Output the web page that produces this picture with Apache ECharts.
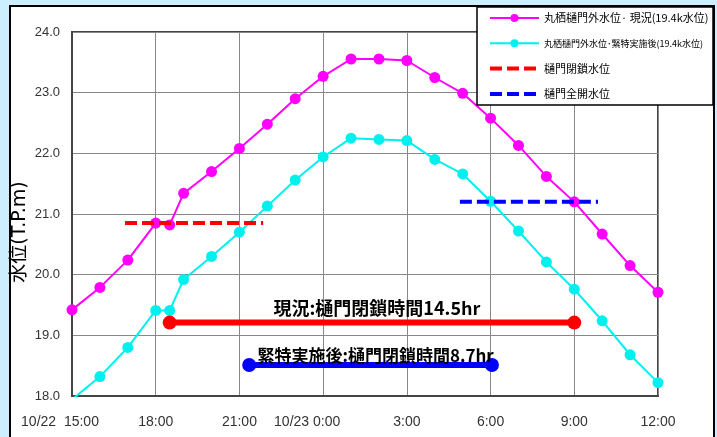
<!DOCTYPE html>
<html><head><meta charset="utf-8">
<script src="https://cdn.jsdelivr.net/npm/echarts@6/dist/echarts.min.js"></script>
<style>html,body{margin:0;padding:0;background:#cceeff}#c{width:717px;height:437px}</style>
</head><body><div id="c"></div>
<script>
// hours after 10/22 15:00
const hours = [0,1,2,3,3.5,4,5,6,7,8,9,10,11,12,13,14,15,16,17,18,19,20,21];
const genjo = [19.42,19.79,20.24,20.85,20.82,21.34,21.70,22.08,22.48,22.90,23.27,23.555,23.555,23.53,23.25,22.99,22.58,22.13,21.62,21.20,20.67,20.15,19.71];
const kintoku = [17.94,18.32,18.80,19.41,19.41,19.92,20.30,20.70,21.13,21.56,21.94,22.25,22.23,22.21,21.90,21.66,21.21,20.72,20.21,19.76,19.24,18.68,18.22];
const closeLevelHours = [1.9, 6.85];
const closeLevel = 20.85;
const openLevelHours = [13.9, 18.85];
const openLevel = 21.2;
const closeGenjoHours = [3.5, 18.0];
const closeGenjoY = 19.21;
const closeKintokuHours = [6.35, 15.05];
const closeKintokuY = 18.51;
const seriesNames = ['丸栖樋門外水位· 現況(19.4k水位)','丸栖樋門外水位･緊特実施後(19.4k水位)','樋門閉鎖水位','樋門全開水位'];
const annoTexts = ['現況:樋門閉鎖時間14.5hr','緊特実施後:樋門閉鎖時間8.7hr'];
const xTickLabels = ['10/22  15:00','18:00','21:00','10/23 0:00','3:00','6:00','9:00','12:00'];

const FONT = "'Liberation Sans','Noto Sans CJK JP',sans-serif";
const CJK = "'Noto Sans CJK JP',sans-serif";
const zip = (xs, ys) => xs.map((x, i) => [x, ys[i]]);
const mid = a => (a[0] + a[1]) / 2;

const chart = echarts.init(document.getElementById('c'), null, {renderer: 'canvas'});
const xLabelStyle = {fontSize: 14, color: '#333', fontFamily: FONT};
chart.setOption({
  backgroundColor: '#cceeff',
  animation: false,
  graphic: [
    {type: 'rect', z: -100, shape: {x: 10, y: 6, width: 704, height: 440}, style: {fill: '#fff', stroke: '#000', lineWidth: 2}},
    {type: 'rect', z: 5, shape: {x: 477, y: 7, width: 236, height: 98}, style: {fill: '#fff', stroke: '#000', lineWidth: 1.5}}
  ],
  legend: {
    z: 6, orient: 'vertical', left: 488, top: 11, padding: 0,
    itemWidth: 49, itemHeight: 10, itemGap: 11.3,
    textStyle: {fontFamily: CJK, color: '#000', fontSize: 11, lineHeight: 14},
    data: [
      {name: seriesNames[0], textStyle: {fontSize: 11}},
      {name: seriesNames[1], textStyle: {fontSize: 9}},
      {name: seriesNames[2], textStyle: {fontSize: 11}, itemStyle: {opacity: 0}, lineStyle: {width: 4}},
      {name: seriesNames[3], textStyle: {fontSize: 11}, itemStyle: {opacity: 0}, lineStyle: {width: 4}}
    ]
  },
  grid: {left: 72, top: 32, right: 59, bottom: 41, show: true, borderColor: '#444', borderWidth: 2, backgroundColor: 'transparent'},
  xAxis: {
    type: 'value', min: 0, max: 21, interval: 3,
    axisLine: {show: true, lineStyle: {color: '#444', width: 2}},
    axisTick: {show: false},
    splitLine: {show: true, lineStyle: {color: '#888', width: 1}},
    axisLabel: {
      margin: 19, ...xLabelStyle,
      formatter: v => {
        const i = Math.round(v / 3);
        const t = xTickLabels[i];
        if (i === 0) return '{a|' + t + '}';
        if (i === 3) return '{b|' + t + '}';
        return t;
      },
      rich: {
        a: {...xLabelStyle, padding: [0, 24, 0, 0]},
        b: {...xLabelStyle, padding: [0, 32, 0, 0]}
      }
    }
  },
  yAxis: {
    type: 'value', min: 18, max: 24, interval: 1,
    name: '水位(T.P.m)', nameLocation: 'middle', nameGap: 42, nameRotate: 90, nameMoveOverlap: false,
    nameTextStyle: {fontSize: 19, color: '#000', fontFamily: "'DejaVu Sans','Noto Sans CJK JP',sans-serif", padding: [0, 36, 0, 0]},
    axisLine: {show: true, lineStyle: {color: '#444', width: 2}},
    axisTick: {show: false},
    splitLine: {show: true, lineStyle: {color: '#888', width: 1}},
    axisLabel: {margin: 12, fontSize: 13, color: '#333', fontFamily: FONT, formatter: v => v.toFixed(1)}
  },
  series: [
    {name: seriesNames[0], type: 'line', data: zip(hours, genjo), symbol: 'circle', symbolSize: 11,
     itemStyle: {color: '#ff00ff'}, lineStyle: {color: '#ff00ff', width: 2}, z: 3},
    {name: seriesNames[1], type: 'line', data: zip(hours, kintoku), symbol: 'circle', symbolSize: 11,
     itemStyle: {color: '#00f0f0'}, lineStyle: {color: '#00f0f0', width: 2}, z: 3},
    {name: seriesNames[2], type: 'line', data: closeLevelHours.map(h => [h, closeLevel]), symbol: 'none',
     itemStyle: {color: '#ff0000'}, lineStyle: {color: '#ff0000', width: 4, type: [12, 5]}, z: 4},
    {name: seriesNames[3], type: 'line', data: openLevelHours.map(h => [h, openLevel]), symbol: 'none',
     itemStyle: {color: '#0000ff'}, lineStyle: {color: '#0000ff', width: 4, type: [12, 5]}, z: 4},
    {name: 'closeGenjo', type: 'line', data: closeGenjoHours.map(h => [h, closeGenjoY]), symbol: 'circle', symbolSize: 14,
     itemStyle: {color: '#ff0000'}, lineStyle: {color: '#ff0000', width: 6}, z: 4,
     markPoint: {symbol: 'circle', symbolSize: 0, silent: true,
       data: [{coord: [mid(closeGenjoHours), closeGenjoY],
         label: {show: true, position: 'top', distance: 5, offset: [5, 0], formatter: annoTexts[0],
           fontSize: 18, fontWeight: 'bold', color: '#000', fontFamily: CJK}}]}},
    {name: 'closeKintoku', type: 'line', data: closeKintokuHours.map(h => [h, closeKintokuY]), symbol: 'circle', symbolSize: 14,
     itemStyle: {color: '#0000ff'}, lineStyle: {color: '#0000ff', width: 6}, z: 4,
     markPoint: {symbol: 'circle', symbolSize: 0, silent: true,
       data: [{coord: [mid(closeKintokuHours), closeKintokuY],
         label: {show: true, position: 'top', distance: 1, offset: [5, 0], formatter: annoTexts[1],
           fontSize: 17, fontWeight: 'bold', color: '#000', fontFamily: CJK}}]}}
  ]
});
</script></body></html>
